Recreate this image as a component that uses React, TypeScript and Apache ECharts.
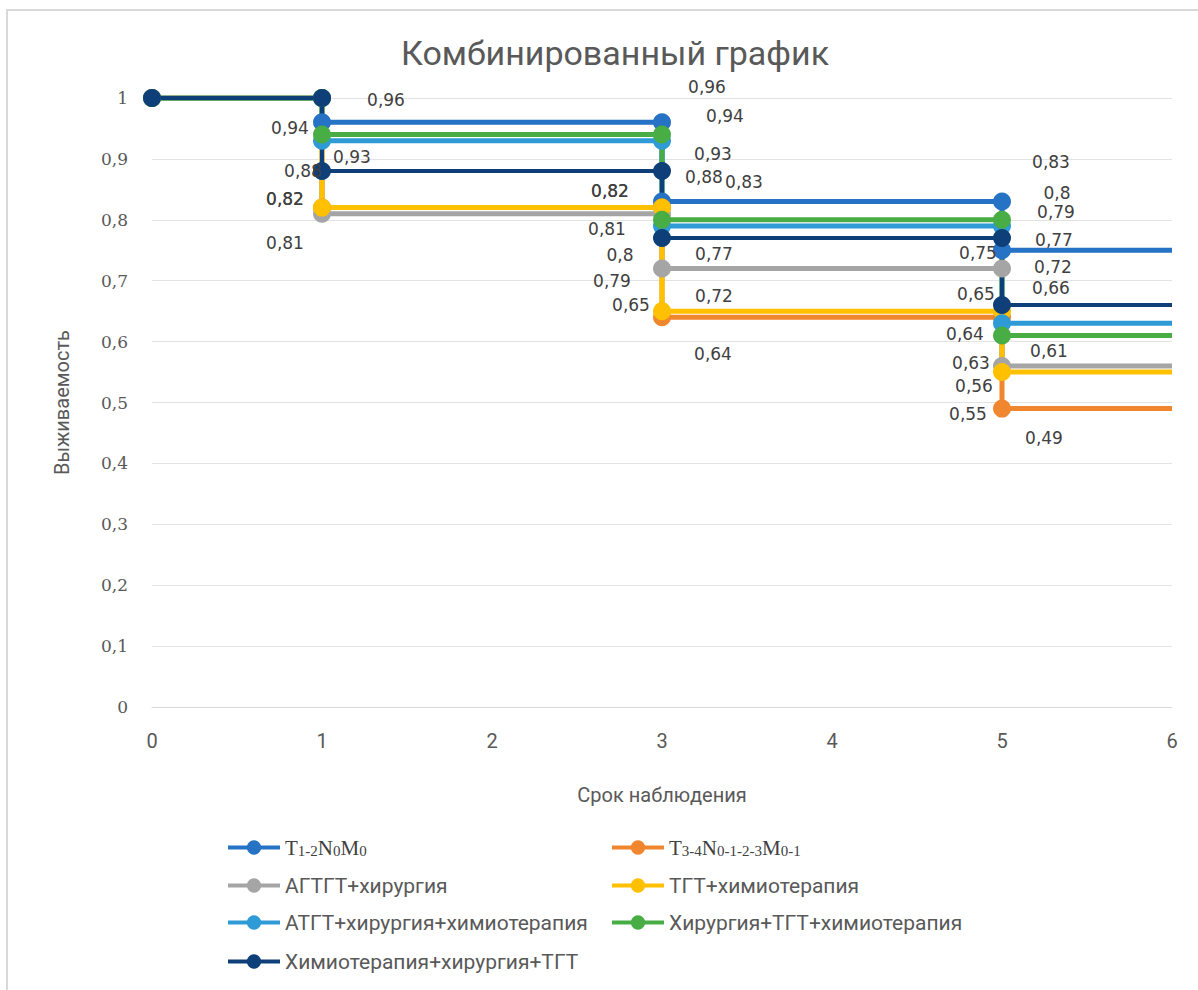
import React, { useEffect, useRef } from "react";
import * as echarts from "echarts";

// ---- data ----
const seriesNames = [
  "T1-2N0M0",
  "T3-4N0-1-2-3M0-1",
  "АГТГТ+хирургия",
  "ТГТ+химиотерапия",
  "АТГТ+хирургия+химиотерапия",
  "Хирургия+ТГТ+химиотерапия",
  "Химиотерапия+хирургия+ТГТ",
];
const stepTimes = [0, 1, 3, 5]; // moments when survival changes
const endTime = 6;
const t12Values = [1, 0.96, 0.83, 0.75];
const t34Values = [1, 0.82, 0.64, 0.49];
const agtgtSurgValues = [1, 0.81, 0.72, 0.56];
const tgtChemoValues = [1, 0.82, 0.65, 0.55];
const atgtSurgChemoValues = [1, 0.93, 0.79, 0.63];
const surgTgtChemoValues = [1, 0.94, 0.8, 0.61];
const chemoSurgTgtValues = [1, 0.88, 0.77, 0.66];
const xTicks = [0, 1, 2, 3, 4, 5, 6];
const yTicks = [0, 0.1, 0.2, 0.3, 0.4, 0.5, 0.6, 0.7, 0.8, 0.9, 1];

const allValues = [
  t12Values,
  t34Values,
  agtgtSurgValues,
  tgtChemoValues,
  atgtSurgChemoValues,
  surgTgtChemoValues,
  chemoSurgTgtValues,
];

// ---- styles ----
const colors = ["#2672C4", "#F0862E", "#A5A5A5", "#FFC000", "#2E9AD6", "#48AD45", "#0E3F78"];
const lineWidths = [5, 5, 5, 5, 5, 5, 4];
// label offsets (px) for step-point indices 2..6
const labelOffsets: number[][][] = [
  [[64, -22], [45, -35], [82, -20], [49, -40], [-24, 3]],
  [[-37, -9], [-52, -17], [51, 37], [-37, 17], [42, 29]],
  [[-37, 29], [-55, 15], [52, 27], [51, -2], [-28, 20]],
  [[-37, -9], [-52, -17], [-31, -6], [-26, -17], [-34, 42]],
  [[30, 16], [51, 13], [-50, 55], [54, -14], [-31, 40]],
  [[-32, -7], [63, -19], [-42, 35], [55, -27], [47, 15]],
  [[-19, 0], [42, 6], [52, 16], [52, 2], [49, -17]],
];
// legend placement: [left, centerY]
const legendPlaces = [
  [226, 849],
  [610, 849],
  [226, 887],
  [610, 887],
  [226, 924],
  [610, 924],
  [226, 963],
];

const fmt = (v: number) => String(+v.toFixed(2)).replace(".", ",");

function buildSteps(values: number[]) {
  const pts: number[][] = [];
  for (let i = 0; i < stepTimes.length; i++) {
    const t = stepTimes[i];
    if (i > 0) pts.push([t, values[i - 1]]);
    pts.push([t, values[i]]);
  }
  pts.push([endTime, values[values.length - 1]]);
  return pts;
}

const App: React.FC = () => {
  const ref = useRef<HTMLDivElement>(null);
  useEffect(() => {
    if (!ref.current) return;
    const chart = echarts.init(ref.current, undefined, { renderer: "svg" });
    const narrow = "'Liberation Sans Narrow', 'Roboto', sans-serif";

    const series = allValues.map((vals, si) => {
      const pts = buildSteps(vals);
      const data = pts.map((p, i) => {
        const item: any = { value: p };
        if (i >= 2 && i <= 6) {
          item.label = {
            show: true,
            position: "inside",
            offset: labelOffsets[si][i - 2],
            formatter: () => fmt(p[1]),
            color: "#404040",
            fontFamily: "'DejaVu Sans', sans-serif",
            fontSize: 17,
            lineHeight: 18,
          };
        } else {
          item.label = { show: false };
        }
        return item;
      });
      return {
        name: seriesNames[si],
        type: "line",
        data,
        symbol: "circle",
        symbolSize: (_v: any, params: any) => (params.dataIndex === pts.length - 1 ? 0 : 18),
        showAllSymbol: true,
        color: colors[si],
        lineStyle: { width: lineWidths[si], color: colors[si] },
        itemStyle: { color: colors[si] },
        emphasis: { disabled: true },
      };
    });

    const legendText = {
      color: "#595959",
      fontFamily: narrow,
      fontSize: 21,
      rich: {
        a: { fontFamily: "'Liberation Serif', serif", fontSize: 21, color: "#404040" },
        b: { fontFamily: "'Liberation Serif', serif", fontSize: 15, color: "#404040", padding: [6, 0, 0, 0] },
      },
    };
    const legendFormatter = (name: string) => {
      if (name === seriesNames[0]) return "{a|T}{b|1-2}{a|N}{b|0}{a|M}{b|0}";
      if (name === seriesNames[1]) return "{a|T}{b|3-4}{a|N}{b|0-1-2-3}{a|M}{b|0-1}";
      return name;
    };
    const legends = seriesNames.map((n, i) => ({
      orient: "horizontal",
      left: legendPlaces[i][0],
      top: legendPlaces[i][1] - 12,
      padding: 0,
      itemWidth: 52,
      itemHeight: 18,
      itemGap: 4,
      lineStyle: { width: 4 },
      textStyle: legendText,
      formatter: legendFormatter,
      selectedMode: false,
      data: [n],
    }));

    chart.setOption({
      animation: false,
      backgroundColor: "#ffffff",
      title: {
        text: "Комбинированный график",
        left: 610,
        textAlign: "center",
        top: 31,
        textStyle: { color: "#595959", fontFamily: narrow, fontSize: 34, fontWeight: "normal" },
      },
      graphic: [
        {
          type: "rect",
          shape: { x: 7, y: 10, width: 1400, height: 1200 },
          style: { fill: "none", stroke: "#D9D9D9", lineWidth: 2 },
          silent: true,
        },
      ],
      legend: legends,
      grid: { left: 152, right: 26, top: 98, bottom: 283, containLabel: false },
      xAxis: {
        type: "value",
        min: xTicks[0],
        max: xTicks[xTicks.length - 1],
        interval: 1,
        name: "Срок наблюдения",
        nameLocation: "middle",
        nameGap: 78,
        nameTextStyle: { color: "#595959", fontFamily: narrow, fontSize: 20 },
        axisLine: { show: true, lineStyle: { color: "#D9D9D9", width: 1 } },
        axisTick: { show: false },
        splitLine: { show: false },
        axisLabel: { color: "#595959", fontFamily: narrow, fontSize: 20, margin: 24 },
      },
      yAxis: {
        type: "value",
        min: yTicks[0],
        max: yTicks[yTicks.length - 1],
        interval: 0.1,
        name: "Выживаемость",
        nameLocation: "middle",
        nameGap: 80,
        nameRotate: 90,
        nameTextStyle: { color: "#595959", fontFamily: narrow, fontSize: 20 },
        axisLine: { show: false },
        axisTick: { show: false },
        splitLine: { show: true, lineStyle: { color: "#E3E3E3", width: 1 } },
        axisLabel: {
          color: "#595959",
          fontFamily: "'DejaVu Serif', serif",
          fontSize: 17,
          margin: 24,
          formatter: (v: number) => fmt(v),
        },
      },
      series,
    });
    return () => chart.dispose();
  }, []);
  return (
    <div
      ref={ref}
      style={{ position: "fixed", left: 0, top: 0, width: 1198, height: 990, background: "#fff" }}
    />
  );
};

export default App;
